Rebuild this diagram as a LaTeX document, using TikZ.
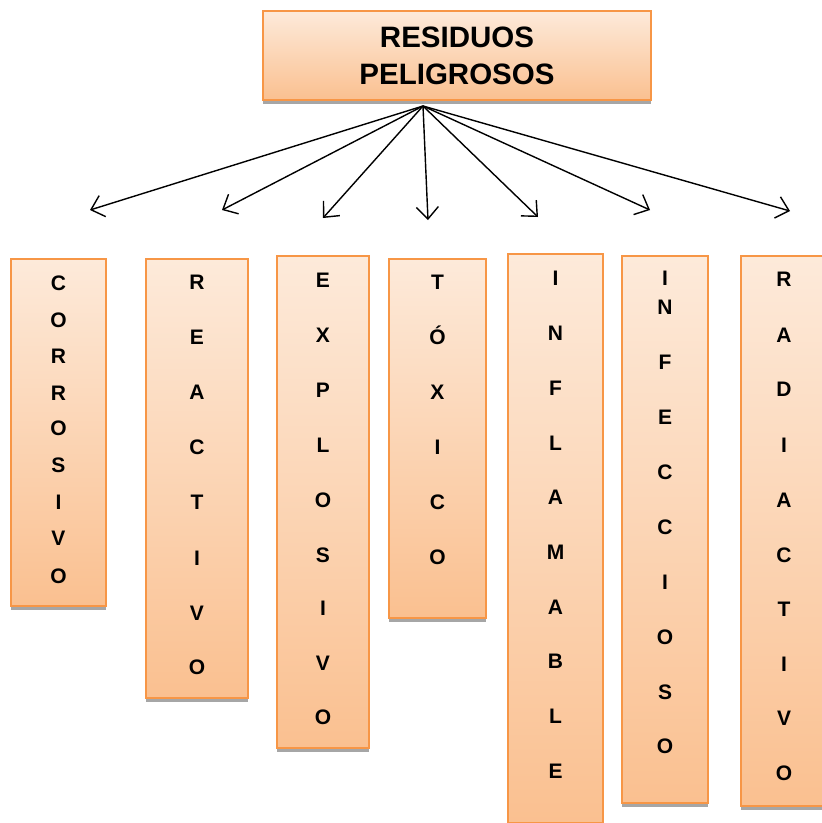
\documentclass[tikz,border=0pt]{standalone}
\usepackage{fontspec}
\setmainfont{Liberation Sans}
\usetikzlibrary{arrows.meta,shadows}

\definecolor{cajaborde}{HTML}{F79646}
\definecolor{cajaarriba}{HTML}{FDEADA}
\definecolor{cajaabajo}{HTML}{FAC090}

\tikzset{
  caja/.style={draw=cajaborde, line width=2pt, top color=cajaarriba, bottom color=cajaabajo,
    inner sep=0pt, anchor=north west,
    drop shadow={shadow xshift=0pt, shadow yshift=-4pt, fill=black!35, opacity=1}},
  letra/.style={font=\fontsize{21}{24}\selectfont\bfseries, inner sep=0pt, anchor=base},
  flecha/.style={line width=1.4pt, -{Straight Barb[length=12pt,width=22pt,line width=1.4pt]}}
}

\begin{document}
\begin{tikzpicture}[x=1pt,y=1pt]
  \useasboundingbox (0,0) rectangle (822,-823);

  \node[caja, minimum width=388pt, minimum height=89pt, align=center,
        font=\fontsize{29.5}{37}\selectfont\bfseries] (residuos) at (262,-10) {RESIDUOS\\PELIGROSOS};
  \coordinate (centro) at (423,-106);

  % flechas hacia cada tipo
  \foreach \n/\x/\y in {c/90/210, r/222/210, e/323/218, t/428/220, i/538/217, f/650/210, d/790/211} {
    \coordinate (fin-\n) at (\x,-\y);
    \draw[flecha] (centro) -- (fin-\n);
  }

  % columnas
  \node[caja, minimum width=95pt, minimum height=347pt] (corrosivo) at (10,-258) {};
  \node[caja, minimum width=102pt, minimum height=439pt] (reactivo) at (145,-258) {};
  \node[caja, minimum width=92pt, minimum height=492pt] (explosivo) at (276,-255) {};
  \node[caja, minimum width=97pt, minimum height=359pt] (toxico) at (388,-258) {};
  \node[caja, minimum width=95pt, minimum height=569pt] (inflamable) at (507,-253) {};
  \node[caja, minimum width=86pt, minimum height=547pt] (infeccioso) at (621,-255) {};
  \node[caja, minimum width=86pt, minimum height=550pt] (radiactivo) at (740,-255) {};

  \foreach \l/\y [count=\i] in {C/283,O/320,R/356,R/393,O/428,S/465,I/502,V/538,O/576}
    \node[letra] (corrosivo-\i) at (corrosivo.north |- 0,-\y-7) {\l};
  \foreach \l/\y [count=\i] in {R/282,E/337,A/392,C/447,T/502,I/558,V/613,O/667}
    \node[letra] (reactivo-\i) at (reactivo.north |- 0,-\y-7) {\l};
  \foreach \l/\y [count=\i] in {E/280,X/335,P/390,L/445,O/500,S/555,I/608,V/663,O/717}
    \node[letra] (explosivo-\i) at (explosivo.north |- 0,-\y-7) {\l};
  \foreach \l/\y [count=\i] in {T/282,Ó/337,X/392,I/447,C/502,O/557}
    \node[letra] (toxico-\i) at (toxico.north |- 0,-\y-7) {\l};
  \foreach \l/\y [count=\i] in {I/278,N/333,F/388,L/443,A/497,M/552,A/607,B/661,L/716,E/771}
    \node[letra] (inflamable-\i) at (inflamable.north |- 0,-\y-7) {\l};
  \foreach \l/\y [count=\i] in {I/278,N/307,F/362,E/417,C/472,C/527,I/582,O/637,S/692,O/746}
    \node[letra] (infeccioso-\i) at (infeccioso.north |- 0,-\y-7) {\l};
  \foreach \l/\y [count=\i] in {R/279,A/335,D/389,I/445,A/500,C/555,T/609,I/664,V/718,O/773}
    \node[letra] (radiactivo-\i) at (radiactivo.north |- 0,-\y-7) {\l};
\end{tikzpicture}
\end{document}
